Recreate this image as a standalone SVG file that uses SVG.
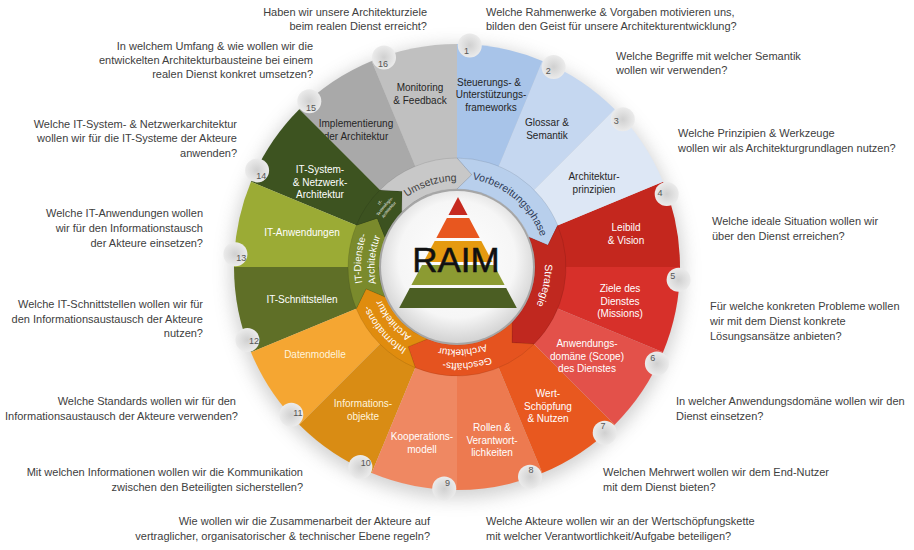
<svg xmlns="http://www.w3.org/2000/svg" width="914" height="550" viewBox="0 0 914 550">
<style>
text{font-family:'Liberation Sans',Arial,sans-serif}
.q{font-size:11px;fill:#404040}
.qe{text-anchor:end}
.l{font-size:10px;fill:#ffffff;text-anchor:middle}
.ld{fill:#262626}
.lc{fill:#fff4dc}
.n{font-size:9px;fill:#555555;text-anchor:middle}
.bub{fill:url(#bg)}
.rt{font-size:10.5px;fill:#ffffff}
.rs{stroke:#000000;stroke-opacity:0.12;stroke-width:0.8}
</style>
<defs>
<radialGradient id="bg" cx="0.5" cy="0.5" r="0.5">
<stop offset="0" stop-color="#d0d0d0"/>
<stop offset="1" stop-color="#ebebeb"/>
</radialGradient>
<radialGradient id="cw" cx="0.5" cy="0.45" r="0.55">
<stop offset="0" stop-color="#ffffff"/>
<stop offset="0.7" stop-color="#f6f6f6"/>
<stop offset="1" stop-color="#d2d2d2"/>
</radialGradient>
<filter id="blur" x="-20%" y="-20%" width="140%" height="140%"><feGaussianBlur stdDeviation="9"/></filter>
<path id="pU" d="M377.26 234.78 A86 86 0 0 1 502.57 194.07"/>
<path id="pV" d="M441.55 179.35 A89 89 0 0 1 546 267"/>
<path id="pS" d="M526.35 212.82 A88 88 0 0 1 498.31 344.70"/>
<path id="pG1" d="M536.59 320.68 A96 96 0 0 1 390.31 336.06"/>
<path id="pG2" d="M523.75 315.49 A82.5 82.5 0 0 1 397.65 324.31"/>
<path id="pI1" d="M458.68 362.99 A96 96 0 0 1 362.18 251.98"/>
<path id="pI2" d="M457 349.5 A82.5 82.5 0 0 1 375.75 252.67"/>
<path id="pD1" d="M389.12 334.88 A96 96 0 0 1 401.94 188.36"/>
<path id="pD2" d="M398.66 325.34 A82.5 82.5 0 0 1 409.68 199.42"/>
<path id="pT1" d="M359.50 284.19 A99 99 0 0 1 457 168"/>
<path id="pT2" d="M364.92 283.24 A93.5 93.5 0 0 1 457 173.5"/>
<path id="pT3" d="M370.34 282.28 A88 88 0 0 1 457 179"/>
</defs>
<rect width="914" height="550" fill="#ffffff"/>

<g id="questions">
<text class="q qe" x="427" y="16">Haben wir unsere Architekturziele</text>
<text class="q qe" x="427" y="30">beim realen Dienst erreicht?</text>
<text class="q qe" x="313" y="50">In welchem Umfang &amp; wie wollen wir die</text>
<text class="q qe" x="313" y="64">entwickelten Architekturbausteine bei einem</text>
<text class="q qe" x="313" y="78">realen Dienst konkret umsetzen?</text>
<text class="q qe" x="237" y="128">Welche IT-System- &amp; Netzwerkarchitektur</text>
<text class="q qe" x="237" y="142">wollen wir für die IT-Systeme der Akteure</text>
<text class="q qe" x="237" y="157">anwenden?</text>
<text class="q qe" x="203" y="217">Welche IT-Anwendungen wollen</text>
<text class="q qe" x="203" y="232">wir für den Informationstausch</text>
<text class="q qe" x="203" y="247">der Akteure einsetzen?</text>
<text class="q qe" x="203" y="308">Welche IT-Schnittstellen wollen wir für</text>
<text class="q qe" x="203" y="323">den Informationsaustausch der Akteure</text>
<text class="q qe" x="203" y="337">nutzen?</text>
<text class="q qe" x="236" y="405">Welche Standards wollen wir für den</text>
<text class="q qe" x="238" y="420">Informationsaustausch der Akteure verwenden?</text>
<text class="q qe" x="303" y="476">Mit welchen Informationen wollen wir die Kommunikation</text>
<text class="q qe" x="303" y="491">zwischen den Beteiligten sicherstellen?</text>
<text class="q qe" x="430" y="525">Wie wollen wir die Zusammenarbeit der Akteure auf</text>
<text class="q qe" x="430" y="540">vertraglicher, organisatorischer &amp; technischer Ebene regeln?</text>
<text class="q" x="486" y="16">Welche Rahmenwerke &amp; Vorgaben motivieren uns,</text>
<text class="q" x="486" y="30">bilden den Geist für unsere Architekturentwicklung?</text>
<text class="q" x="616" y="60">Welche Begriffe mit welcher Semantik</text>
<text class="q" x="616" y="74">wollen wir verwenden?</text>
<text class="q" x="678" y="137">Welche Prinzipien &amp; Werkzeuge</text>
<text class="q" x="678" y="152">wollen wir als Architekturgrundlagen nutzen?</text>
<text class="q" x="712" y="225">Welche ideale Situation wollen wir</text>
<text class="q" x="712" y="240">über den Dienst erreichen?</text>
<text class="q" x="710" y="310">Für welche konkreten Probleme wollen</text>
<text class="q" x="710" y="325">wir mit dem Dienst konkrete</text>
<text class="q" x="710" y="340">Lösungsansätze anbieten?</text>
<text class="q" x="676" y="405">In welcher Anwendungsdomäne wollen wir den</text>
<text class="q" x="676" y="420">Dienst einsetzen?</text>
<text class="q" x="603" y="476">Welchen Mehrwert wollen wir dem End-Nutzer</text>
<text class="q" x="603" y="491">mit dem Dienst bieten?</text>
<text class="q" x="486" y="525">Welche Akteure wollen wir an der Wertschöpfungskette</text>
<text class="q" x="486" y="540">mit welcher Verantwortlichkeit/Aufgabe beteiligen?</text>
</g>

<circle cx="457" cy="272" r="226" fill="#7a7a7a" opacity="0.35" filter="url(#blur)"/>

<g id="sectors">
<g id="s16">
<path d="M457 267 L371.66 60.97 A223 223 0 0 1 457 44 Z" fill="#c0c0c0"/>
<circle class="bub" cx="384.0" cy="57.4" r="12"/>
<text class="n" x="383.1" y="67">16</text>
<text class="l ld" x="420" y="91">Monitoring</text>
<text class="l ld" x="420" y="103.5">&amp; Feedback</text>
</g>
<g id="s15">
<path d="M457 267 L299.31 109.31 A223 223 0 0 1 371.66 60.97 Z" fill="#a9a9a9"/>
<circle class="bub" cx="309.3" cy="101.3" r="12"/>
<text class="n" x="311.1" y="110.7">15</text>
<text class="l ld" x="356" y="127">Implementierung</text>
<text class="l ld" x="356" y="139.5">der Architektur</text>
</g>
<g id="s14">
<path d="M457 267 L250.97 181.66 A223 223 0 0 1 299.31 109.31 Z" fill="#3d5320"/>
<circle class="bub" cx="257.1" cy="170.4" r="12"/>
<text class="n" x="261.2" y="178.7">14</text>
<text class="l" x="320" y="173">IT-System-</text>
<text class="l" x="320" y="185.5">&amp; Netzwerk-</text>
<text class="l" x="320" y="198">Architektur</text>
</g>
<g id="s13">
<path d="M457 267 L234 267 A223 223 0 0 1 250.97 181.66 Z" fill="#9bab35"/>
<circle class="bub" cx="235.4" cy="254.2" r="12"/>
<text class="n" x="241.2" y="260.6">13</text>
<text class="l" x="302" y="236">IT-Anwendungen</text>
</g>
<g id="s12">
<path d="M457 267 L250.97 352.34 A223 223 0 0 1 234 267 Z" fill="#5f6f27"/>
<circle class="bub" cx="247.4" cy="340.0" r="12"/>
<text class="n" x="254" y="343.9">12</text>
<text class="l" x="302" y="303">IT-Schnittstellen</text>
</g>
<g id="s11">
<path d="M457 267 L299.31 424.69 A223 223 0 0 1 250.97 352.34 Z" fill="#f5a632"/>
<circle class="bub" cx="291.3" cy="414.7" r="12"/>
<text class="n" x="297.8" y="415.9">11</text>
<text class="l lc" x="315" y="358">Datenmodelle</text>
</g>
<g id="s10">
<path d="M457 267 L371.66 473.03 A223 223 0 0 1 299.31 424.69 Z" fill="#d98c14"/>
<circle class="bub" cx="360.4" cy="466.9" r="12"/>
<text class="n" x="365.7" y="465.8">10</text>
<text class="l lc" x="363" y="407">Informations-</text>
<text class="l lc" x="363" y="419.5">objekte</text>
</g>
<g id="s9">
<path d="M457 267 L457 490 A223 223 0 0 1 371.66 473.03 Z" fill="#ef8862"/>
<circle class="bub" cx="444.2" cy="488.6" r="12"/>
<text class="n" x="447.6" y="485.8">9</text>
<text class="l" x="422" y="440">Kooperations-</text>
<text class="l" x="422" y="452.5">modell</text>
</g>
<g id="s8">
<path d="M457 267 L542.34 473.03 A223 223 0 0 1 457 490 Z" fill="#ed7a50"/>
<circle class="bub" cx="530.0" cy="476.7" r="12"/>
<text class="n" x="530.9" y="473">8</text>
<text class="l" x="492" y="431">Rollen &amp;</text>
<text class="l" x="492" y="443.5">Verantwort-</text>
<text class="l" x="492" y="456">lichkeiten</text>
</g>
<g id="s7">
<path d="M457 267 L614.69 424.69 A223 223 0 0 1 542.34 473.03 Z" fill="#e8581f"/>
<circle class="bub" cx="604.7" cy="432.8" r="12"/>
<text class="n" x="602.9" y="429.3">7</text>
<text class="l" x="548" y="397">Wert-</text>
<text class="l" x="548" y="409.5">Schöpfung</text>
<text class="l" x="548" y="422">&amp; Nutzen</text>
</g>
<g id="s6">
<path d="M457 267 L663.03 352.34 A223 223 0 0 1 614.69 424.69 Z" fill="#e3514a"/>
<circle class="bub" cx="656.9" cy="363.6" r="12"/>
<text class="n" x="652.8" y="361.3">6</text>
<text class="l" x="587" y="347">Anwendungs-</text>
<text class="l" x="587" y="359.5">domäne (Scope)</text>
<text class="l" x="587" y="372">des Dienstes</text>
</g>
<g id="s5">
<path d="M457 267 L680 267 A223 223 0 0 1 663.03 352.34 Z" fill="#d7302a"/>
<circle class="bub" cx="678.6" cy="279.8" r="12"/>
<text class="n" x="672.8" y="279.4">5</text>
<text class="l" x="620" y="292">Ziele des</text>
<text class="l" x="620" y="304.5">Dienstes</text>
<text class="l" x="620" y="317">(Missions)</text>
</g>
<g id="s4">
<path d="M457 267 L663.03 181.66 A223 223 0 0 1 680 267 Z" fill="#c4271e"/>
<circle class="bub" cx="666.7" cy="194.0" r="12"/>
<text class="n" x="660" y="196.1">4</text>
<text class="l" x="626" y="231">Leibild</text>
<text class="l" x="626" y="243.5">&amp; Vision</text>
</g>
<g id="s3">
<path d="M457 267 L614.69 109.31 A223 223 0 0 1 663.03 181.66 Z" fill="#dde7f5"/>
<circle class="bub" cx="622.8" cy="119.3" r="12"/>
<text class="n" x="616.3" y="124.1">3</text>
<text class="l ld" x="594" y="180">Architektur-</text>
<text class="l ld" x="594" y="192.5">prinzipien</text>
</g>
<g id="s2">
<path d="M457 267 L542.34 60.97 A223 223 0 0 1 614.69 109.31 Z" fill="#c5d7f0"/>
<circle class="bub" cx="553.6" cy="67.1" r="12"/>
<text class="n" x="548.3" y="74.2">2</text>
<text class="l ld" x="547" y="126">Glossar &amp;</text>
<text class="l ld" x="547" y="138.5">Semantik</text>
</g>
<g id="s1">
<path d="M457 267 L457 44 A223 223 0 0 1 542.34 60.97 Z" fill="#a8c4e9"/>
<circle class="bub" cx="469.8" cy="45.4" r="12"/>
<text class="n" x="466.4" y="54.2">1</text>
<text class="l ld" x="489" y="85.5">Steuerungs- &amp;</text>
<text class="l ld" x="491" y="98">Unterstützungs-</text>
<text class="l ld" x="491" y="110.5">frameworks</text>
</g>
</g>

<g id="phases">
<g id="phase-vorbereitung">
<path class="rs" d="M457 158 A109 109 0 0 1 557.70 225.29 L547.92 245.17 L529.06 237.15 A78 78 0 0 0 457 189 L471.63 174.65 Z" fill="#b8cfec"/>
<text class="rt" style="fill:#2e3a55"><textPath href="#pV" startOffset="50%" text-anchor="middle">Vorbereitungsphase</textPath></text>
</g>
<g id="phase-strategie">
<path class="rs" d="M557.70 225.29 A109 109 0 0 1 534.07 344.07 L511.96 342.64 L512.15 322.15 A78 78 0 0 0 529.06 237.15 L547.92 245.17 Z" fill="#c0281f"/>
<text class="rt"><textPath href="#pS" startOffset="50%" text-anchor="middle">Strategie</textPath></text>
</g>
<g id="phase-geschaeft">
<path class="rs" d="M534.07 344.07 A109 109 0 0 1 415.29 367.70 L408.15 346.72 L427.15 339.06 A78 78 0 0 0 512.15 322.15 L511.96 342.64 Z" fill="#e5531f"/>
<text class="rt" style="font-size:10px"><textPath href="#pG1" startOffset="50%" text-anchor="middle">Geschäfts-</textPath></text>
<text class="rt" style="font-size:10px"><textPath href="#pG2" startOffset="50%" text-anchor="middle">Architektur</textPath></text>
</g>
<g id="phase-information">
<path class="rs" d="M415.29 367.70 A109 109 0 0 1 356.30 308.71 L366.08 288.83 L384.94 296.85 A78 78 0 0 0 427.15 339.06 L408.15 346.72 Z" fill="#e08c0e"/>
<text class="rt" style="font-size:10px"><textPath href="#pI1" startOffset="50%" text-anchor="middle">Informations-</textPath></text>
<text class="rt" style="font-size:10px"><textPath href="#pI2" startOffset="50%" text-anchor="middle">Architektur</textPath></text>
</g>
<g id="phase-itdienste">
<path class="rs" d="M356.30 308.71 A109 109 0 0 1 356.30 225.29 L377.28 218.15 L384.94 237.15 A78 78 0 0 0 384.94 296.85 L366.08 288.83 Z" fill="#7a8a2c"/>
<text class="rt" style="font-size:10px"><textPath href="#pD1" startOffset="50%" text-anchor="middle">IT-Dienste-</textPath></text>
<text class="rt" style="font-size:10px"><textPath href="#pD2" startOffset="50%" text-anchor="middle">Architektur</textPath></text>
</g>
<g id="phase-ittechnologie">
<path class="rs" d="M356.30 225.29 A109 109 0 0 1 379.93 189.93 L402.04 191.36 L401.85 211.85 A78 78 0 0 0 384.94 237.15 L377.28 218.15 Z" fill="#3c5220"/>
<text class="rt" style="font-size:4px"><textPath href="#pT1" startOffset="50%" text-anchor="middle">IT-</textPath></text>
<text class="rt" style="font-size:4px"><textPath href="#pT2" startOffset="50%" text-anchor="middle">Technologie-</textPath></text>
<text class="rt" style="font-size:4px"><textPath href="#pT3" startOffset="50%" text-anchor="middle">Architektur</textPath></text>
</g>
<g id="phase-umsetzung">
<path class="rs" d="M379.93 189.93 A109 109 0 0 1 457 158 L471.63 174.65 L457 189 A78 78 0 0 0 401.85 211.85 L402.04 191.36 Z" fill="#c8c8c8"/>
<text class="rt" style="fill:#404040"><textPath href="#pU" startOffset="50%" text-anchor="middle">Umsetzung</textPath></text>
</g>
</g>

<g id="center">
<circle cx="457" cy="267" r="78" fill="#a6a6a6"/>
<circle cx="457" cy="267" r="76" fill="url(#cw)"/>
<polygon points="458,197 448.5,215 467.5,215" fill="#c62a1f"/>
<polygon points="446.9,218 469.1,218 479.7,238 436.3,238" fill="#e8571f"/>
<polygon points="434.7,241 481.3,241 492.5,262 423.5,262" fill="#e59a10"/>
<polygon points="422,265 494,265 504.6,285 411.4,285" fill="#8c9b32"/>
<polygon points="409.8,288 506.2,288 516.8,308 399.2,308" fill="#4b5e23"/>
<text x="456" y="272" text-anchor="middle" style="font-size:35px;fill:#111111;stroke:#111111;stroke-width:0.5">RAIM</text>
</g>

<g id="connectors"/>
</svg>
